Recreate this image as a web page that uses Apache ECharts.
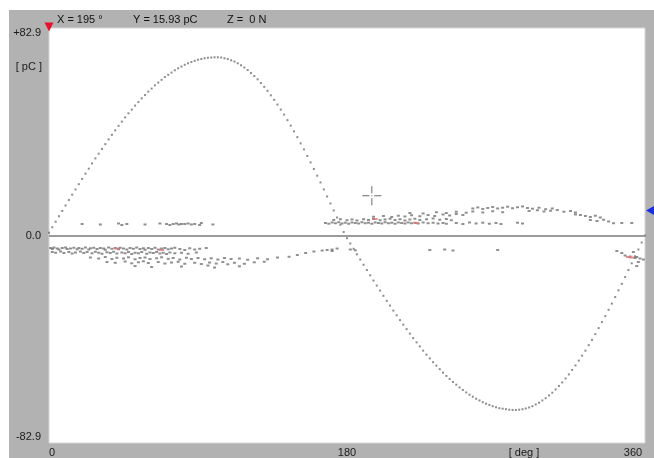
<!DOCTYPE html>
<html>
<head>
<meta charset="utf-8">
<script src="https://cdn.jsdelivr.net/npm/echarts@6/dist/echarts.min.js"></script>
<style>
html,body{margin:0;padding:0;background:#fff;}
#frame{position:absolute;left:9px;top:10px;width:645px;height:448px;background:#b2b2b2;}
#chart{position:absolute;left:0;top:0;width:654px;height:458px;}
</style>
</head>
<body>
<div id="frame"></div>
<div id="chart"></div>
<script>
// ---- data ----
const yTickLabels = ['-82.9', '0.0', '+82.9'];
const xTickLabels = ['0', '180', '360'];
const yRange = 82.9;
const cursorX = 195, cursorY = 15.93, cursorZ = 0;
const triggerLevel = 10.0;
const curveStepDeg = 2;
// reference sine, one value every 2 degrees from 0 to 360 (pC)
const curveValues = [
 1.1,3.3,5.5,7.7,9.8,12.0,14.2,16.3,18.4,20.5,22.6,24.7,26.7,28.8,30.8,32.7,34.6,36.5,38.4,40.2,
 42.0,43.8,45.5,47.2,48.8,50.3,51.9,53.3,54.8,56.1,57.5,58.7,60.0,61.1,62.2,63.3,64.2,65.1,66.0,66.8,
 67.5,68.2,68.8,69.3,69.8,70.2,70.5,70.8,71.0,71.1,71.2,
 71.2,71.1,70.8,70.5,70.0,69.5,68.8,68.0,67.1,66.1,64.9,63.7,62.4,60.9,59.4,57.8,56.0,54.2,52.3,50.3,
 48.3,46.1,43.9,41.6,39.3,36.8,34.4,31.8,29.2,26.6,23.9,21.2,18.4,15.6,12.8,10.0,7.2,4.3,1.4,
 -1.1,-3.2,-5.3,-7.5,-9.6,-11.7,-13.8,-15.9,-18.0,-20.0,-22.0,-24.1,-26.1,-28.0,-30.0,-31.9,-33.8,-35.6,-37.4,-39.2,
 -41.0,-42.7,-44.3,-46.0,-47.6,-49.1,-50.6,-52.0,-53.4,-54.8,-56.1,-57.3,-58.5,-59.6,-60.7,-61.7,-62.7,-63.6,-64.4,-65.2,
 -65.9,-66.6,-67.2,-67.7,-68.2,-68.6,-69.0,-69.2,-69.4,-69.6,-69.7,
 -69.7,-69.6,-69.4,-69.1,-68.7,-68.2,-67.5,-66.8,-65.9,-65.0,-63.9,-62.8,-61.5,-60.1,-58.7,-57.1,-55.5,-53.7,-51.9,-50.0,
 -48.0,-46.0,-43.8,-41.7,-39.4,-37.0,-34.6,-32.2,-29.7,-27.2,-24.6,-21.9,-19.3,-16.6,-13.8,-11.1,-8.3,-5.6,-2.8,0.0
];
// partial discharge pulses [deg, pC]
const pdUpperLeft = [[20,4.6],[31,4.4],[42,4.8],[44,4.2],[47,4.6],[58,4.4],[67,4.8],[71,4.6],[73,4.2],[75,4.6],
 [77,4.8],[78.5,4.4],[80,4.6],[82,4.6],[84,4.8],[86,4.4],[88,4.6],[91,4.2],[92,5.0],[99,4.4]];
const pdLowerLeft = [
 [1,-5.0],[2,-5.4],[3,-4.8],[5,-5.2],[6,-5.6],[8,-5.0],[10,-4.8],[11,-5.4],[13,-5.2],[15,-4.9],[17,-5.5],[18,-5.0],
 [20,-5.3],[22,-4.8],[24,-5.6],[25,-5.1],[27,-4.9],[29,-5.4],[31,-5.0],[33,-5.2],[34,-5.7],[36,-4.8],[38,-5.3],[40,-5.0],
 [42,-5.5],[43,-4.9],[45,-5.2],[47,-5.6],[49,-5.0],[51,-5.3],[53,-4.8],[55,-5.4],[57,-5.1],[58,-5.7],[60,-5.0],[62,-5.4],
 [64,-4.9],[66,-5.6],[68,-5.2],[70,-5.0],[72,-5.5],[74,-5.2],[76,-4.9],[79,-5.4],[82,-5.8],[85,-5.1],[88,-5.6],[91,-5.3],[95,-5.0],
 [2,-6.6],[4,-6.9],[7,-6.4],[9,-7.0],[12,-6.6],[14,-7.2],[16,-6.8],[19,-6.4],[21,-7.0],[23,-6.6],[26,-7.1],[28,-6.5],
 [30,-6.9],[32,-7.3],[35,-6.7],[37,-7.0],[39,-6.5],[41,-7.2],[44,-6.8],[46,-7.1],[48,-6.6],[50,-7.4],[52,-6.9],[54,-7.1],
 [56,-6.6],[59,-7.3],[61,-6.8],[63,-7.0],[65,-6.6],[67,-7.2],[69,-6.9],[71,-7.4],[73,-6.8],[76,-7.1],[80,-6.9],[84,-7.3],[89,-6.8],
 [25,-8.8],[30,-9.2],[34,-8.6],[38,-9.4],[41,-8.9],[45,-9.2],[48,-8.7],[52,-9.5],[55,-9.0],[58,-8.8],[61,-9.4],[65,-9.1],
 [68,-8.7],[72,-9.3],[75,-9.0],[79,-9.6],[83,-8.9],[86,-9.4],[90,-9.0],[94,-9.5],[98,-9.1],[102,-9.6],[106,-9.0],[110,-9.4],
 [115,-9.2],[120,-9.7],[126,-9.1],[132,-9.5],[138,-8.8],[145,-8.5],
 [35,-10.6],[40,-10.9],[46,-10.4],[50,-11.1],[54,-10.7],[57,-10.3],[60,-11.0],[66,-10.6],[70,-11.2],[74,-10.8],[78,-10.5],
 [82,-11.3],[88,-10.9],[92,-11.4],[97,-10.8],[101,-11.2],[105,-10.6],[108,-11.5],[112,-10.9],[118,-11.3],[124,-10.7],[130,-10.5],
 [52,-12.2],[62,-12.6],[80,-12.4],[96,-12.0],[100,-12.8],[115,-12.3],
 [150,-7.8],[155,-7.0],[160,-6.4],[165,-6.0],[171,-5.6],[174,-5.2]];
const pdUpperRight = [
 [167,5.0],[169,4.7],[171,5.2],[173,4.9],[175,5.3],[177,4.8],[179,5.1],[181,4.7],[183,5.2],[185,5.0],[187,4.8],[189,5.3],
 [191,4.9],[193,5.1],[195,4.7],[197,5.2],[199,5.0],[201,4.8],[203,5.3],[205,4.9],[207,5.1],[209,4.7],[211,5.2],[213,5.0],
 [215,4.8],[217,5.2],[219,4.9],[221,5.1],[223,4.8],[226,5.2],[229,4.9],[232,5.1],[235,4.8],[238,5.0],[240,4.7],
 [172,6.2],[176,6.5],[180,6.1],[183,6.4],[186,6.0],[190,6.5],[193,6.2],[196,6.6],[200,6.1],[203,6.4],[206,6.7],[209,6.2],
 [212,6.5],[215,6.0],[218,6.4],[221,6.7],[224,6.2],[228,6.5],[232,6.8],[236,6.3],[240,6.6],[243,6.1],
 [196,7.5],[202,7.8],[207,7.4],[211,7.9],[215,7.6],[219,8.1],[224,7.7],[229,8.2],[233,7.8],[238,8.4],[242,8.0],[246,8.6],[250,8.2],
 [218,9.0],[226,8.8],[234,9.3],[240,9.0],[246,9.5],[252,9.1],[256,9.6],[262,9.2],[268,9.7],[274,9.3],
 [256,10.8],[259,11.2],[262,10.6],[265,11.0],[268,11.4],[271,10.8],[274,11.1],[277,11.5],[280,10.9],[283,11.3],[286,11.6],
 [289,11.0],[292,10.7],[296,11.1],[300,10.5],[304,10.8],
 [290,9.8],[295,10.1],[299,9.6],[303,9.9],[307,10.2],[311,9.5],[315,9.8],[318,9.2],
 [318,8.4],[321,8.2],[324,7.8],[327,7.4],[330,7.9],[333,7.2],
 [327,6.2],[331,5.8],[335,6.3],[338,5.6],
 [341,4.9],[346,5.0],[352,5.0],
 [246,5.0],[250,4.6],[254,5.2],[258,4.8],[262,5.1],[266,4.7],[270,5.0],[273,4.6],[283,5.1],[286,4.8]];
const pdLowerRight = [[168,-5.8],[171,-6.2],[182,-5.6],[185,-5.9],[230,-5.8],[239,-5.6],[244,-6.0],[271,-5.8],
 [343,-6.2],[346,-7.0],[348,-8.0],[351,-8.4],[353,-6.6],[354,-9.0],[355,-8.6],[357,-9.2],[356,-10.6],[355,-12.2],[359,-9.6]];
const pdHighlight = [[41,-5.2],[68,-5.8],[197,6.6],[222,5.0],[350,-8.6],[352,-8.8]];

// ---- chart ----
const curveData = curveValues.map((v, i) => [i * curveStepDeg, v]);
const pdAll = pdUpperLeft.concat(pdLowerLeft, pdUpperRight, pdLowerRight);
const font = '"Liberation Sans", Arial, sans-serif';
const chart = echarts.init(document.getElementById('chart'), null, {renderer: 'canvas'});
chart.setOption({
  animation: false,
  backgroundColor: 'transparent',
  textStyle: {fontFamily: font},
  grid: {left: 49, right: 9, top: 28, bottom: 15, show: true, backgroundColor: '#ffffff',
         borderColor: '#d6d6d6', borderWidth: 1, containLabel: false, outerBoundsMode: 'none'},
  xAxis: {
    type: 'value', min: 0, max: 360, interval: 180,
    axisLine: {show: false}, axisTick: {show: false}, splitLine: {show: false},
    axisLabel: {
      margin: 4, fontSize: 11, color: '#1a1a1a', fontFamily: font,
      formatter: (v, i) => i === 0 ? '{l|' + xTickLabels[0] + '}' : (i === 2 ? '{r|' + xTickLabels[2] + '}' : xTickLabels[i]),
      rich: {l: {padding: [0, 0, 0, 6], fontSize: 11, color: '#1a1a1a'}, r: {padding: [0, 24, 0, 0], fontSize: 11, color: '#1a1a1a'}}
    },
    name: '[ deg ]', nameLocation: 'middle', nameGap: 4, nameMoveOverlap: false,
    nameTextStyle: {fontSize: 11, color: '#1a1a1a', padding: [0, 0, 0, 354], verticalAlign: 'top'}
  },
  yAxis: {
    type: 'value', min: -yRange, max: yRange, interval: yRange,
    axisLine: {show: false}, axisTick: {show: false}, splitLine: {show: false},
    axisLabel: {
      margin: 8, fontSize: 11, color: '#1a1a1a', fontFamily: font,
      formatter: (v, i) => i === 2 ? '{t|' + yTickLabels[2] + '}' : (i === 0 ? '{b|' + yTickLabels[0] + '}' : yTickLabels[i]),
      rich: {t: {padding: [10, 0, 0, 0], fontSize: 11, color: '#1a1a1a'}, b: {padding: [0, 0, 12, 0], fontSize: 11, color: '#1a1a1a'}}
    },
    name: '[ pC ]', nameLocation: 'end', nameGap: -39, nameMoveOverlap: false,
    nameTextStyle: {fontSize: 11, color: '#1a1a1a', align: 'right', verticalAlign: 'middle', padding: [0, 7, 0, 0]}
  },
  graphic: [
    {type: 'text', left: 57, top: 14, style: {text: 'X = ' + cursorX + ' °', font: '11px ' + font, fill: '#111'}},
    {type: 'text', left: 133, top: 14, style: {text: 'Y = ' + cursorY.toFixed(2) + ' pC', font: '11px ' + font, fill: '#111'}},
    {type: 'text', left: 227, top: 14, style: {text: 'Z =  ' + cursorZ + ' N', font: '11px ' + font, fill: '#111'}}
  ],
  series: [
    {
      type: 'scatter', data: curveData, symbol: 'rect', symbolSize: [2, 2],
      itemStyle: {color: '#707070'}, silent: true, clip: false,
      markLine: {
        silent: true, symbol: ['none', 'none'], label: {show: false},
        lineStyle: {color: '#9a9a9a', width: 2, type: 'solid'},
        data: [{yAxis: 0}]
      },
      markPoint: {
        silent: true, label: {show: false},
        data: [
          {coord: [0, yRange], symbol: 'triangle', symbolRotate: 180, symbolSize: [9, 9], symbolOffset: [0, -1], itemStyle: {color: '#e8102a'}},
          {coord: [360, triggerLevel], symbol: 'triangle', symbolRotate: 90, symbolSize: [9, 8], symbolOffset: [5, 0], itemStyle: {color: '#1a2ee0'}}
        ]
      }
    },
    {type: 'scatter', data: pdAll, symbol: 'rect', symbolSize: [3, 2], itemStyle: {color: '#747474'}, silent: true},
    {type: 'scatter', data: pdHighlight, symbol: 'rect', symbolSize: [5, 2], itemStyle: {color: '#e07474'}, silent: true},
    {
      type: 'scatter', data: [[cursorX, cursorY]], silent: true,
      symbol: 'path://M0,9h7v1h-7zM12,9h7v1h-7zM9,0h1v7h-1zM9,12h1v7h-1zM9,9h1v1h-1z',
      symbolSize: 19, itemStyle: {color: '#444'}
    }
  ]
});
</script>
</body>
</html>
